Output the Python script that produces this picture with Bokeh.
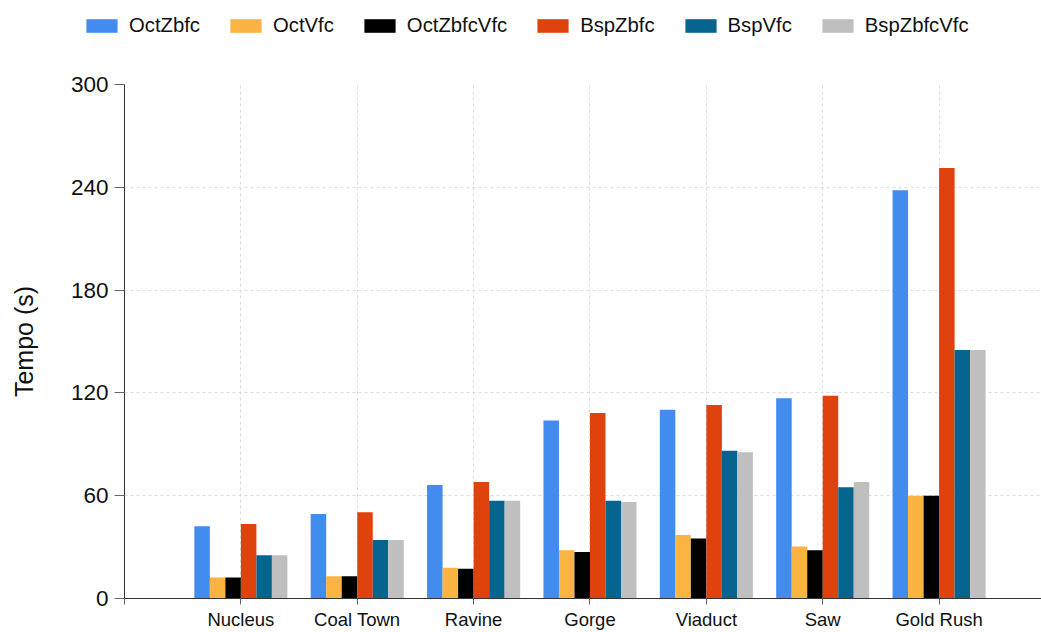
from bokeh.plotting import figure
from bokeh.layouts import column
from bokeh.models import ColumnDataSource, FixedTicker, Legend, LegendItem, Range1d
from bokeh.transform import dodge
from bokeh.embed import file_html
from bokeh.resources import INLINE

# ---- data ----
maps = ["Nucleus", "Coal Town", "Ravine", "Gorge", "Viaduct", "Saw", "Gold Rush"]
series_names = ["OctZbfc", "OctVfc", "OctZbfcVfc", "BspZbfc", "BspVfc", "BspZbfcVfc"]
oct_zbfc = [42.1, 49.3, 66.2, 103.9, 110.1, 116.9, 238.3]
oct_vfc = [12.2, 13.0, 18.0, 28.2, 37.1, 30.3, 60.0]
oct_zbfc_vfc = [12.2, 13.0, 17.3, 27.2, 35.0, 28.2, 60.0]
bsp_zbfc = [43.5, 50.3, 68.0, 108.2, 113.0, 118.3, 251.3]
bsp_vfc = [25.2, 34.2, 57.1, 57.1, 86.2, 64.9, 145.0]
bsp_zbfc_vfc = [25.2, 34.2, 57.1, 56.3, 85.4, 68.0, 145.0]
y_ticks = [0, 60, 120, 180, 240, 300]
colors = ["#428bef", "#fbb342", "#000000", "#e0420d", "#05658f", "#bfbfbf"]

series_values = [oct_zbfc, oct_vfc, oct_zbfc_vfc, bsp_zbfc, bsp_vfc, bsp_zbfc_vfc]
positions = list(range(1, len(maps) + 1))

data = {"pos": positions, "map": maps}
for name, vals in zip(series_names, series_values):
    data[name] = vals
source = ColumnDataSource(data)

FONT = "Liberation Sans"
LEG_H = 44

# ---- main chart ----
p = figure(width=1041, height=632 - LEG_H, output_backend="svg", toolbar_location=None,
           x_range=Range1d(0, 7.88), y_range=Range1d(0, 300),
           min_border_left=124, min_border_right=0, min_border_top=84 - LEG_H,
           min_border_bottom=0)
p.frame_align = False
p.outline_line_color = None
p.background_fill_color = "white"
p.border_fill_color = "white"

bar_w = 0.1333
n = len(series_names)
for i, (name, col) in enumerate(zip(series_names, colors)):
    off = (i - (n - 1) / 2) * bar_w
    p.vbar(x=dodge("pos", off), top=name, width=bar_w, bottom=0,
           source=source, fill_color=col, line_color=None)

# axes
p.yaxis.ticker = FixedTicker(ticks=y_ticks)
p.yaxis.axis_label = "Tempo (s)"
p.yaxis.axis_label_text_font = FONT
p.yaxis.axis_label_text_font_size = "25px"
p.yaxis.axis_label_text_font_style = "normal"
p.yaxis.axis_label_text_color = "#111111"
p.yaxis.axis_label_standoff = 30
p.yaxis.major_label_text_font = FONT
p.yaxis.major_label_text_font_size = "22.5px"
p.yaxis.major_label_text_color = "#111111"
p.yaxis.major_label_standoff = 6
p.yaxis.major_tick_out = 10
p.yaxis.major_tick_in = 0
p.yaxis.minor_tick_line_color = None
p.yaxis.axis_line_color = "#333333"
p.yaxis.major_tick_line_color = "#666666"

p.xaxis.ticker = FixedTicker(ticks=[0] + positions)
overrides = {0: ""}
for pos, m in zip(positions, maps):
    overrides[pos] = m
p.xaxis.major_label_overrides = overrides
p.xaxis.major_label_text_font = FONT
p.xaxis.major_label_text_font_size = "18.5px"
p.xaxis.major_label_text_color = "#111111"
p.xaxis.major_label_standoff = 4
p.xaxis.major_tick_out = 6
p.xaxis.major_tick_in = 0
p.xaxis.minor_tick_line_color = None
p.xaxis.axis_line_color = "#333333"
p.xaxis.major_tick_line_color = "#666666"

# grids
p.xgrid.ticker = FixedTicker(ticks=positions)
p.xgrid.grid_line_color = "#dcdcdc"
p.xgrid.grid_line_dash = "3 3"
p.ygrid.ticker = FixedTicker(ticks=y_ticks[1:])
p.ygrid.grid_line_color = "#dcdcdc"
p.ygrid.grid_line_dash = "3 3"

# ---- legend strip (same series, bars fall outside its ranges) ----
lg = figure(width=1041, height=LEG_H, output_backend="svg", toolbar_location=None,
            x_range=Range1d(0, 1041), y_range=Range1d(1000, 1000 + LEG_H),
            x_axis_type=None, y_axis_type=None,
            min_border_left=0, min_border_right=0, min_border_top=0, min_border_bottom=0)
lg.frame_align = False
lg.outline_line_color = None
lg.xgrid.visible = False
lg.ygrid.visible = False
leg_items = []
for name, col in zip(series_names, colors):
    r = lg.vbar(x="pos", top=name, width=bar_w, bottom=0, source=source,
                fill_color=col, line_color=None)
    leg_items.append(LegendItem(label=name, renderers=[r]))

legend = Legend(items=leg_items, orientation="horizontal", location=(82, 7),
                glyph_width=39, glyph_height=17, label_standoff=8, spacing=26,
                padding=0, margin=0, border_line_alpha=0, background_fill_alpha=0,
                label_text_font=FONT, label_text_font_size="20.3px",
                label_text_color="#111111")
lg.add_layout(legend)

layout = column(lg, p, spacing=0)
open("out.html", "w").write(file_html(layout, INLINE))
